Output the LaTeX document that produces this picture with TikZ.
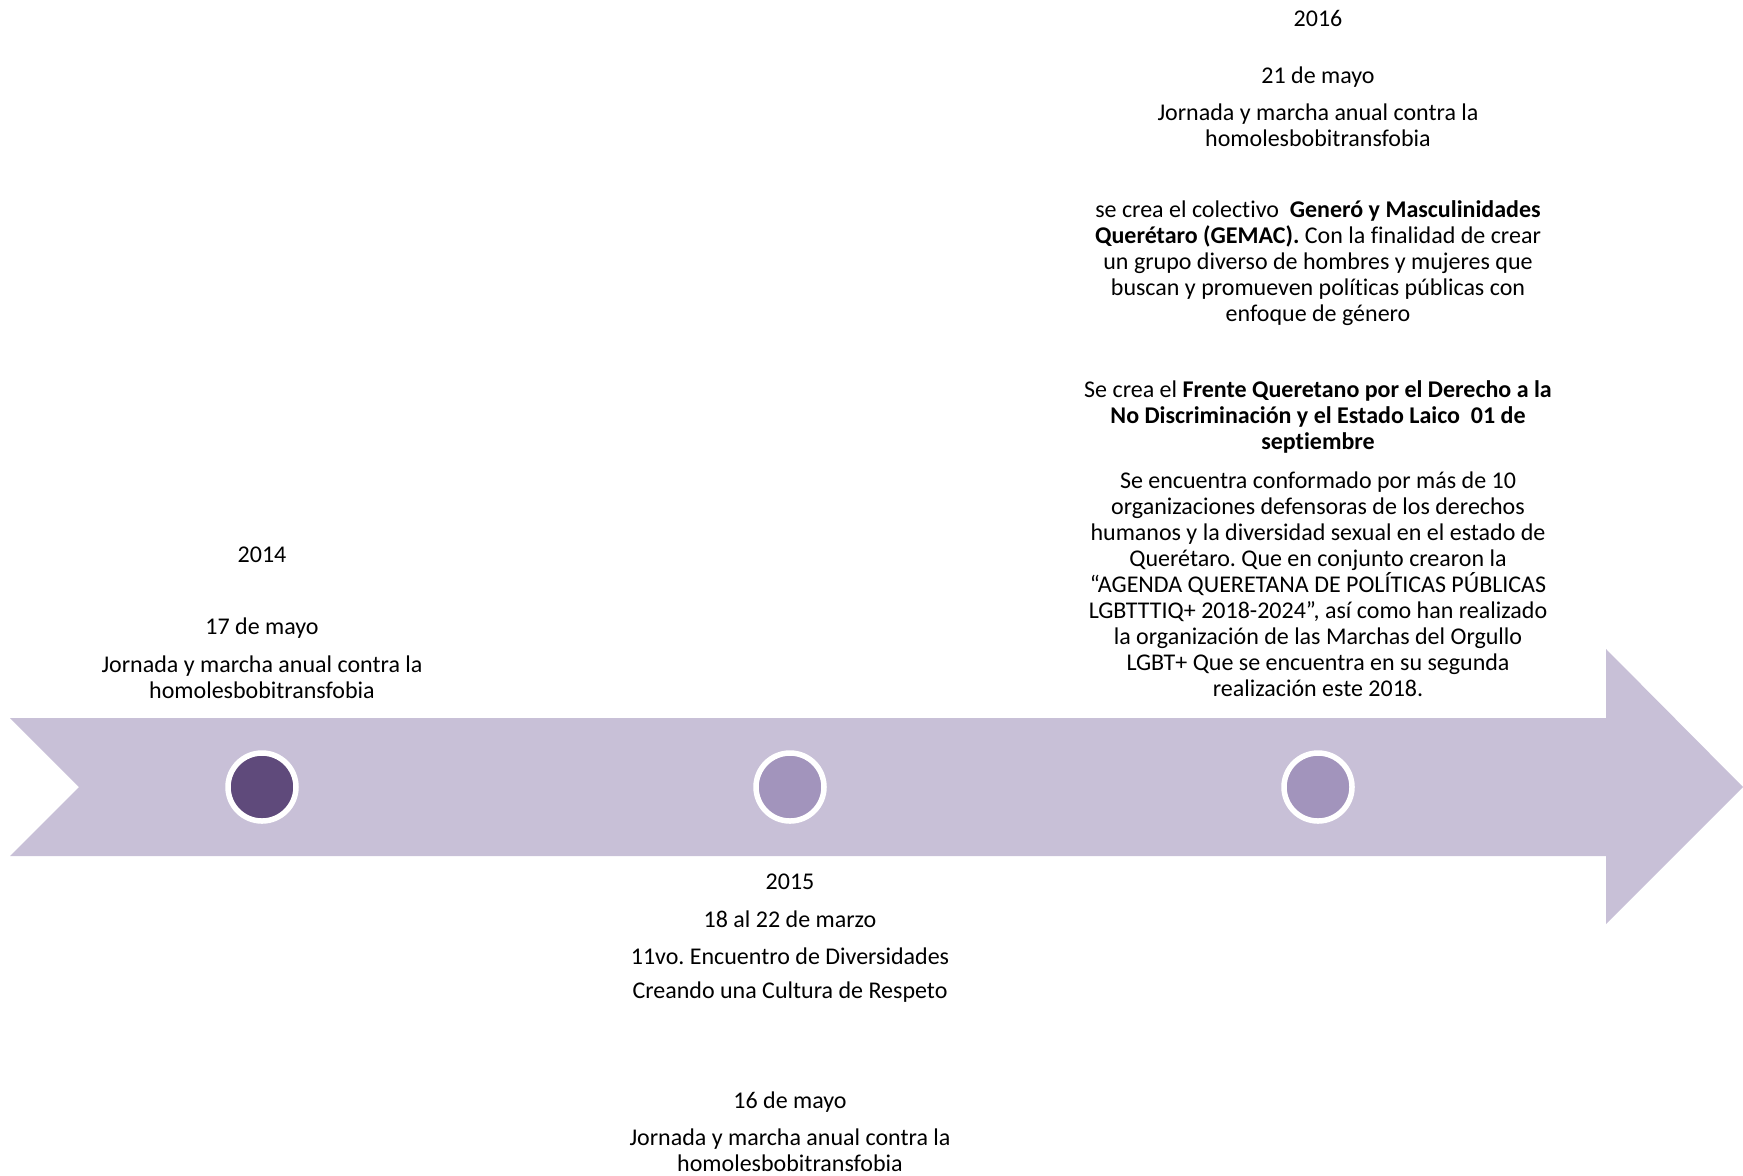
\documentclass[tikz,border=0pt]{standalone}
\usepackage{fontspec}
\setmainfont{Carlito}[Ligatures=NoCommon]
\frenchspacing
\definecolor{bandlila}{HTML}{C8C0D7}
\definecolor{puntooscuro}{HTML}{5F4A7B}
\definecolor{puntoclaro}{HTML}{A294BC}
\tikzset{
  hito/.style={circle, draw=white, line width=2.75pt, minimum size=34pt, inner sep=0pt},
  texto/.style={align=center, inner sep=0pt, font=\fontsize{12}{13}\selectfont},
}
\begin{document}
\begin{tikzpicture}[x=0.5pt,y=-0.5pt]
        \useasboundingbox (0,0) rectangle (1743,1175);

        \fill[bandlila] (10,718) -- (1606,718) -- (1606,649) -- (1743,787)
                -- (1606,924) -- (1606,856) -- (10,856) -- (79,787) -- cycle;

        \node[hito, fill=puntooscuro] (p14) at (262,787) {};
        \node[hito, fill=puntoclaro]  (p15) at (790,787) {};
        \node[hito, fill=puntoclaro]  (p16) at (1318,787) {};

        \node[texto] (anio14)  at (262,555) {2014};
        \node[texto] (fecha14) at (262,628) {17 de mayo};
        \node[texto] (jorn14)  at (262,677.5) {Jornada y marcha anual contra la\\homolesbobitransfobia};

        \node[texto] (anio15)  at (790,882) {2015};
        \node[texto] (fecha15) at (790,919) {18 al 22 de marzo};
        \node[texto] (encu15)  at (790,956) {11vo. Encuentro de Diversidades};
        \node[texto] (lema15)  at (790,992) {Creando una Cultura de Respeto};
        \node[texto] (mayo15)  at (790,1102) {16 de mayo};
        \node[texto] (jorn15)  at (790,1150.5) {Jornada y marcha anual contra la\\homolesbobitransfobia};

        \node[texto] (anio16)  at (1318,18) {2016};
        \node[texto] (fecha16) at (1318,77) {21 de mayo};
        \node[texto] (jorn16)  at (1318,125.5) {Jornada y marcha anual contra la\\homolesbobitransfobia};
        \node[texto] (gemac16) at (1318,263) {se crea el colectivo\ \ \textbf{Generó y Masculinidades}\\
                \textbf{Querétaro (GEMAC).} Con la finalidad de crear\\
                un grupo diverso de hombres y mujeres que\\
                buscan y promueven políticas públicas con\\
                enfoque de género};
        \node[texto] (frente16) at (1318,416.5) {Se crea el \textbf{Frente Queretano por el Derecho a la}\\
                \textbf{No Discriminación y el Estado Laico\ \ 01 de}\\
                \textbf{septiembre}};
        \node[texto] (agenda16) at (1318,584) {Se encuentra conformado por más de 10\\
                organizaciones defensoras de los derechos\\
                humanos y la diversidad sexual en el estado de\\
                Querétaro. Que en conjunto crearon la\\
                “AGENDA QUERETANA DE POLÍTICAS PÚBLICAS\\
                LGBTTTIQ+ 2018-2024”, así como han realizado\\
                la organización de las Marchas del Orgullo\\
                LGBT+ Que se encuentra en su segunda\\
                realización este 2018.};
\end{tikzpicture}
\end{document}
